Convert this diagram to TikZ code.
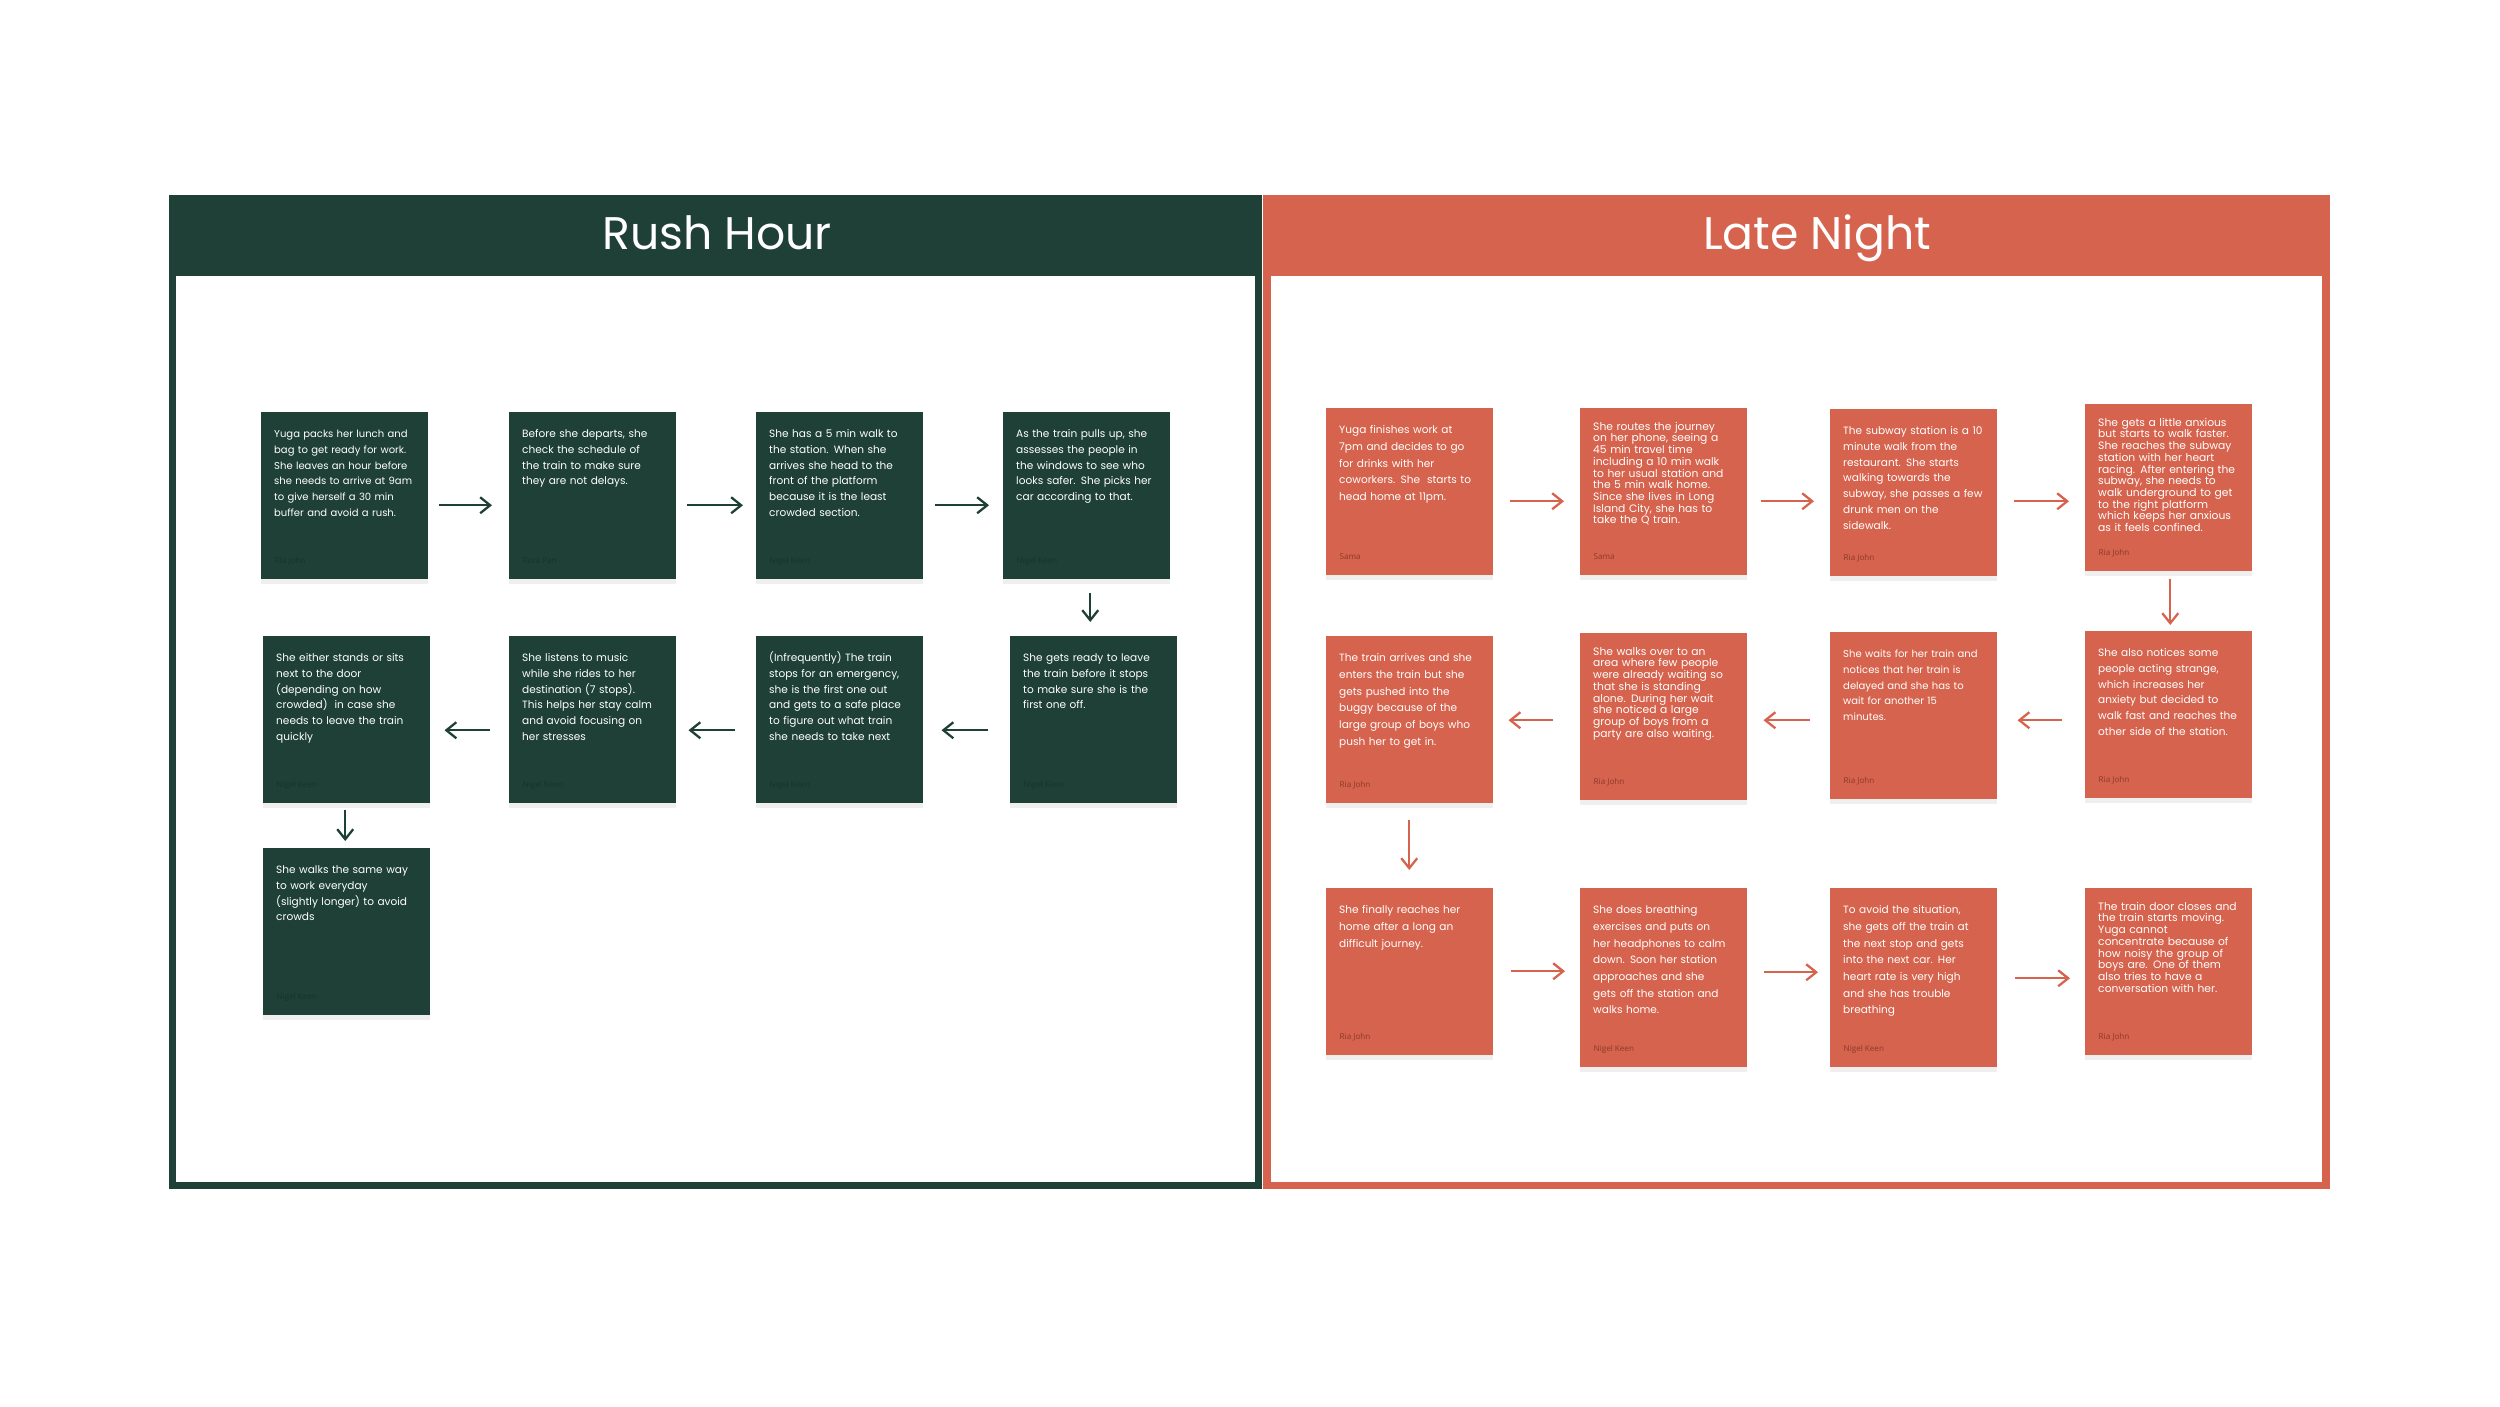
\documentclass[tikz,border=0pt]{standalone}
\usepackage{fontspec}
\setmainfont{Poppins}
\newfontfamily\whofont{Open Sans}
\usepackage{xcolor}
\definecolor{rushgreen}{HTML}{1E4037}
\definecolor{lateorange}{HTML}{D6634D}
\definecolor{rushwho}{HTML}{17332B}
\definecolor{latewho}{HTML}{8A3A2C}
\usepackage{tikz}
\usetikzlibrary{arrows.meta,calc,shadows}
\hyphenpenalty=10000
\exhyphenpenalty=10000

\begin{document}
\begin{tikzpicture}[x=0.01cm,y=-0.01cm,
  note/.style={anchor=north west,inner xsep=0.135cm,inner ysep=0pt,
               text width=1.40cm,minimum width=1.67cm,align=left,text=white,
               text height=0.26cm,text depth=1.41cm,
               font=\fontsize{3.0pt}{4.47pt}\selectfont,
               drop shadow={opacity=0.12,shadow xshift=0pt,shadow yshift=-0.05cm}},
  gnote/.style={note,fill=rushgreen},
  onote/.style={note,fill=lateorange},
  narrow/.style={font=\fontsize{2.85pt}{4.47pt}\selectfont},
  tight/.style={font=\fontsize{3.05pt}{3.33pt}\selectfont,
                text height=0.225cm,text depth=1.445cm},
  loose/.style={font=\fontsize{3.0pt}{4.74pt}\selectfont},
  tall/.style={text depth=1.53cm},
  who/.style={anchor=base west,inner sep=0pt,xshift=0.14cm,yshift=0.16cm,
              font=\whofont\fontsize{2.3pt}{2.8pt}\selectfont},
  gwho/.style={who,text=rushwho},
  owho/.style={who,text=latewho},
  paneltitle/.style={anchor=base,text=white,font=\fontsize{13pt}{15pt}\selectfont},
  garrow/.style={draw=rushgreen,line width=0.65pt,
                 -{Straight Barb[length=0.1cm,width=0.16cm]}},
  oarrow/.style={draw=lateorange,line width=0.65pt,
                 -{Straight Barb[length=0.1cm,width=0.16cm]}}
]
\useasboundingbox (0,0) rectangle (2500,1406);

% panels
\fill[rushgreen] (169,195) rectangle (1262,1189);
\fill[white] (176,276) rectangle (1255,1182);
\fill[lateorange] (1263,195) rectangle (2330,1189);
\fill[white] (1271,276) rectangle (2322,1182);
\node[paneltitle] (rushtitle) at (717,249) {Rush Hour};
\node[paneltitle] (latetitle) at (1817,249) {Late Night};

% rush hour
\node[gnote,narrow,label={[gwho]south west:Ria John}] (g1) at (260,411)
  {Yuga packs her lunch and\\bag to get ready for work.\\She leaves an hour before\\she needs to arrive at 9am\\to give herself a 30 min\\buffer and avoid a rush.};
\node[gnote,label={[gwho]south west:Rora Pan}] (g2) at (508,411)
  {Before she departs, she\\check the schedule of\\the train to make sure\\they are not delays.};
\node[gnote,label={[gwho]south west:Nigel Keen}] (g3) at (755,411)
  {She has a 5 min walk to\\the station. When she\\arrives she head to the\\front of the platform\\because it is the least\\crowded section.};
\node[gnote,label={[gwho]south west:Nigel Keen}] (g4) at (1002,411)
  {As the train pulls up, she\\assesses the people in\\the windows to see who\\looks safer. She picks her\\car according to that.};
\node[gnote,label={[gwho]south west:Nigel Keen}] (g5) at (1009,635)
  {She gets ready to leave\\the train before it stops\\to make sure she is the\\first one off.};
\node[gnote,label={[gwho]south west:Nigel Keen}] (g6) at (755,635)
  {(Infrequently) The train\\stops for an emergency,\\she is the first one out\\and gets to a safe place\\to figure out what train\\she needs to take next};
\node[gnote,label={[gwho]south west:Nigel Keen}] (g7) at (508,635)
  {She listens to music\\while she rides to her\\destination (7 stops).\\This helps her stay calm\\and avoid focusing on\\her stresses};
\node[gnote,label={[gwho]south west:Nigel Keen}] (g8) at (262,635)
  {She either stands or sits\\next to the door\\(depending on how\\crowded)~ in case she\\needs to leave the train\\quickly};
\node[gnote,label={[gwho]south west:Nigel Keen}] (g9) at (262,847)
  {She walks the same way\\to work everyday\\(slightly longer) to avoid\\crowds};

\draw[garrow] ($(g1.east)+(10,10)$) -- ($(g1.east -| g2.west)+(-16,10)$);
\draw[garrow] ($(g2.east)+(10,10)$) -- ($(g2.east -| g3.west)+(-12,10)$);
\draw[garrow] ($(g3.east)+(11,10)$) -- ($(g3.east -| g4.west)+(-13,10)$);
\draw[garrow] ($(g4.south)+(4,13)$) -- ($(g4.south |- g5.north)+(4,-13)$);
\draw[garrow] ($(g5.west)+(-21,11)$) -- ($(g5.west -| g6.east)+(18,11)$);
\draw[garrow] ($(g6.west)+(-20,11)$) -- ($(g6.west -| g7.east)+(12,11)$);
\draw[garrow] ($(g7.west)+(-18,11)$) -- ($(g7.west -| g8.east)+(14,11)$);
\draw[garrow] ($(g8.south)+(-1,6)$) -- ($(g8.south |- g9.north)+(-1,-6)$);

% late night
\node[onote,loose,label={[owho]south west:Sama}] (o1) at (1325,407)
  {Yuga finishes work at\\7pm and decides to go\\for drinks with her\\coworkers. She~ starts to\\head home at 11pm.};
\node[onote,tight,label={[owho]south west:Sama}] (o2) at (1579,407)
  {She routes the journey\\on her phone, seeing a\\45 min travel time\\including a 10 min walk\\to her usual station and\\the 5 min walk home.\\Since she lives in Long\\Island City, she has to\\take the Q train.};
\node[onote,label={[owho]south west:Ria John}] (o3) at (1829,408)
  {The subway station is a 10\\minute walk from the\\restaurant. She starts\\walking towards the\\subway, she passes a few\\drunk men on the\\sidewalk.};
\node[onote,tight,label={[owho]south west:Ria John}] (o4) at (2084,403)
  {She gets a little anxious\\but starts to walk faster.\\She reaches the subway\\station with her heart\\racing. After entering the\\subway, she needs to\\walk underground to get\\to the right platform\\which keeps her anxious\\as it feels confined.};
\node[onote,label={[owho]south west:Ria John}] (o5) at (2084,630)
  {She also notices some\\people acting strange,\\which increases her\\anxiety but decided to\\walk fast and reaches the\\other side of the station.};
\node[onote,narrow,label={[owho]south west:Ria John}] (o6) at (1829,631)
  {She waits for her train and\\notices that her train is\\delayed and she has to\\wait for another 15\\minutes.};
\node[onote,tight,label={[owho]south west:Ria John}] (o7) at (1579,632)
  {She walks over to an\\area where few people\\were already waiting so\\that she is standing\\alone. During her wait\\she noticed a large\\group of boys from a\\party are also waiting.};
\node[onote,loose,label={[owho]south west:Ria John}] (o8) at (1325,635)
  {The train arrives and she\\enters the train but she\\gets pushed into the\\buggy because of the\\large group of boys who\\push her to get in.};
\node[onote,loose,label={[owho]south west:Ria John}] (o9) at (1325,887)
  {She finally reaches her\\home after a long an\\difficult journey.};
\node[onote,loose,tall,label={[owho]south west:Nigel Keen}] (o10) at (1579,887)
  {She does breathing\\exercises and puts on\\her headphones to calm\\down. Soon her station\\approaches and she\\gets off the station and\\walks home.};
\node[onote,loose,tall,label={[owho]south west:Nigel Keen}] (o11) at (1829,887)
  {To avoid the situation,\\she gets off the train at\\the next stop and gets\\into the next car. Her\\heart rate is very high\\and she has trouble\\breathing};
\node[onote,tight,label={[owho]south west:Ria John}] (o12) at (2084,887)
  {The train door closes and\\the train starts moving.\\Yuga cannot\\concentrate because of\\how noisy the group of\\boys are. One of them\\also tries to have a\\conversation with her.};

\draw[oarrow] ($(o1.east)+(16,10)$) -- ($(o1.east -| o2.west)+(-15,10)$);
\draw[oarrow] ($(o2.east)+(13,10)$) -- ($(o2.east -| o3.west)+(-15,10)$);
\draw[oarrow] ($(o3.east)+(16,9)$) -- ($(o3.east -| o4.west)+(-15,9)$);
\draw[oarrow] ($(o4.south)+(2,7)$) -- ($(o4.south |- o5.north)+(2,-5)$);
\draw[oarrow] ($(o5.west)+(-22,6)$) -- ($(o5.west -| o6.east)+(20,6)$);
\draw[oarrow] ($(o6.west)+(-19,5)$) -- ($(o6.west -| o7.east)+(16,5)$);
\draw[oarrow] ($(o7.west)+(-26,4)$) -- ($(o7.west -| o8.east)+(15,4)$);
\draw[oarrow] ($(o8.south)+(0,16)$) -- ($(o8.south |- o9.north)+(0,-17)$);
\draw[oarrow] ($(o9.east)+(17,0)$) -- ($(o9.east -| o10.west)+(-14,0)$);
\draw[oarrow] ($(o10.east)+(16,-5)$) -- ($(o10.east -| o11.west)+(-11,-5)$);
\draw[oarrow] ($(o11.east)+(17,1)$) -- ($(o11.east -| o12.west)+(-14,1)$);
\end{tikzpicture}
\end{document}
